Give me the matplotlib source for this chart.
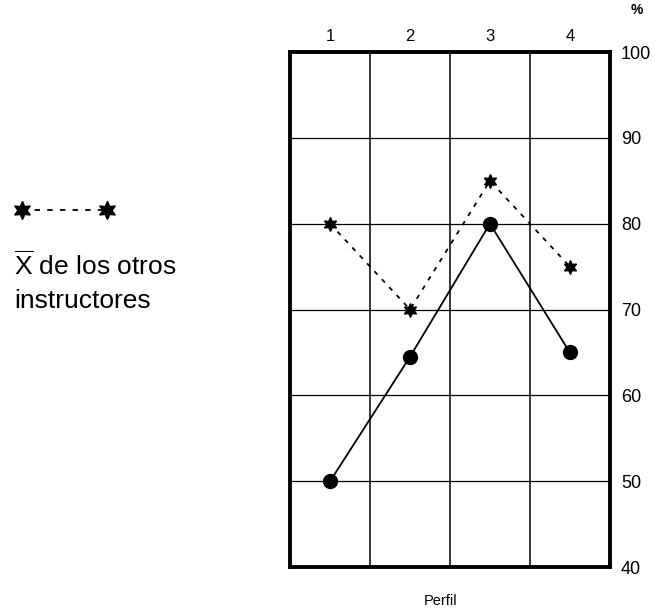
import matplotlib.pyplot as plt
from matplotlib.lines import Line2D

plt.rcParams['font.family'] = ['Liberation Sans', 'DejaVu Sans']
plt.rcParams['mathtext.fontset'] = 'custom'
plt.rcParams['mathtext.rm'] = 'Liberation Sans'

perfiles = [1, 2, 3, 4]
instructor = [50, 64.5, 80, 65]
otros = [80, 70, 85, 75]
y_ticks = [40, 50, 60, 70, 80, 90, 100]

fig = plt.figure(figsize=(6.55, 6.16), dpi=100)
ax = fig.add_axes([0.443, 0.0795, 0.488, 0.836])

ax.plot(perfiles, otros, color='black', linestyle=(0, (2.5, 3.5)), linewidth=1.3,
        marker=(6, 1, 0), markersize=10, markerfacecolor='black', zorder=3)
ax.plot(perfiles, instructor, color='black', linewidth=1.3,
        marker='o', markersize=10, markerfacecolor='black', zorder=3)

ax.set_xlim(0.5, 4.5)
ax.set_ylim(40, 100)

# grid: column boundaries and every 10 %
for xb in [1.5, 2.5, 3.5]:
    ax.axvline(xb, color='black', linewidth=1.1, zorder=1)
for yv in y_ticks[1:-1]:
    ax.axhline(yv, color='black', linewidth=0.9, zorder=1)

for s in ax.spines.values():
    s.set_linewidth(2.8)

ax.xaxis.tick_top()
ax.set_xticks(perfiles)
ax.set_xticklabels([str(p) for p in perfiles], fontsize=12)
ax.yaxis.tick_right()
ax.set_yticks(y_ticks)
ax.set_yticklabels([str(v) for v in y_ticks], fontsize=13)
ax.tick_params(length=0, pad=8)
ax.tick_params(axis='x', pad=6)

fig.text(0.972, 0.995, '%', fontsize=10, fontweight='bold', ha='center', va='top')
fig.text(0.672, 0.024, 'Perfil', fontsize=10.5, ha='center', va='center')

# legend
leg = Line2D([0.034, 0.163], [0.659, 0.659], transform=fig.transFigure,
             color='black', linestyle=(0, (3, 4)), linewidth=1.3,
             marker=(6, 1, 0), markersize=13, markerfacecolor='black')
fig.add_artist(leg)
fig.text(0.021, 0.5536, r'$\overline{\mathrm{X}}$ de los otros', fontsize=19,
         ha='left', va='baseline')
fig.text(0.021, 0.500, 'instructores', fontsize=19, ha='left', va='baseline')

fig.savefig('out.png', dpi=100)
